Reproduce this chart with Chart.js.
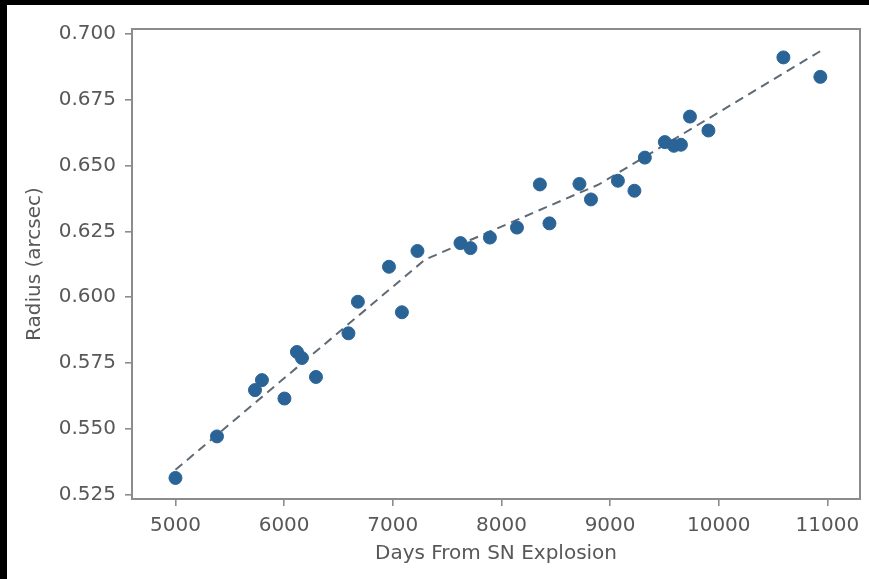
<!DOCTYPE html>
<html>
<head>
<meta charset="utf-8">
<script src="https://cdn.jsdelivr.net/npm/chart.js@4"></script>
<style>
  html, body { margin: 0; padding: 0; background: #000; }
  #wrap { position: absolute; left: 7px; top: 5px; width: 862px; height: 574px; background: #fff; }
  canvas { display: block; }
</style>
</head>
<body>
<div id="wrap"><canvas id="c" width="862" height="574"></canvas></div>
<script>
// Measured ring radius versus time since the explosion
const days = [5000, 5382, 5732, 5796, 6003, 6118, 6164, 6293, 6592, 6679,
              6965, 7084, 7227, 7623, 7715, 7894, 8143, 8354, 8442, 8718,
              8824, 9072, 9224, 9320, 9504, 9587, 9652, 9735, 9905, 10595, 10935];
const radius = [0.5313, 0.5471, 0.5647, 0.5685, 0.5615, 0.5792, 0.5769, 0.5697, 0.5863, 0.5983,
                0.6116, 0.5943, 0.6176, 0.6206, 0.6187, 0.6227, 0.6265, 0.6429, 0.6281, 0.6431,
                0.6372, 0.6443, 0.6405, 0.6531, 0.6590, 0.6576, 0.6580, 0.6687, 0.6634, 0.6912, 0.6838];

// Broken-line fit through the measurements (break points)
const fitDays = [5000, 7296, 8897, 10940];
const fitRadius = [0.5344, 0.6143, 0.6429, 0.6937];

// Axis ticks
const xTicks = [5000, 6000, 7000, 8000, 9000, 10000, 11000];
const yTicks = [0.525, 0.550, 0.575, 0.600, 0.625, 0.650, 0.675, 0.700];

const textColor = '#585858';
const frameColor = '#8c8c8c';
const font = { family: '"DejaVu Sans", sans-serif', size: 20 };

const frame = {
  id: 'frame',
  afterDraw(chart) {
    const { ctx, chartArea: a } = chart;
    ctx.save();
    ctx.strokeStyle = frameColor;
    ctx.lineWidth = 2;
    ctx.strokeRect(a.left, a.top, a.right - a.left, a.bottom - a.top);
    ctx.restore();
  }
};

new Chart(document.getElementById('c'), {
  type: 'scatter',
  data: {
    datasets: [
      {
        type: 'line',
        data: fitDays.map((d, i) => ({ x: d, y: fitRadius[i] })),
        borderColor: '#5f6a75',
        borderWidth: 2,
        borderDash: [9, 6],
        pointRadius: 0,
        fill: false,
        tension: 0,
        order: 2
      },
      {
        data: days.map((d, i) => ({ x: d, y: radius[i] })),
        backgroundColor: '#2a6496',
        borderColor: '#2a6496',
        pointRadius: 6.5,
        pointHoverRadius: 6.5,
        order: 1
      }
    ]
  },
  options: {
    responsive: false,
    animation: false,
    events: [],
    layout: { padding: { left: 0, top: 24, right: 9, bottom: 0 } },
    plugins: { legend: { display: false }, tooltip: { enabled: false } },
    scales: {
      x: {
        type: 'linear',
        min: 4600,
        max: 11300,
        afterBuildTicks: s => { s.ticks = xTicks.map(v => ({ value: v })); },
        afterFit: s => { s.height = 80; },
        border: { display: false },
        grid: { drawOnChartArea: false, drawTicks: true, tickLength: 7, color: frameColor, lineWidth: 1.6 },
        ticks: { color: textColor, font, padding: 8, maxRotation: 0, callback: v => String(v) },
        title: { display: true, text: 'Days From SN Explosion', color: textColor, font, padding: { top: 2, bottom: 13 } }
      },
      y: {
        type: 'linear',
        min: 0.5233,
        max: 0.7020,
        afterBuildTicks: s => { s.ticks = yTicks.map(v => ({ value: v })); },
        afterFit: s => { s.width = 125; },
        border: { display: false },
        grid: { drawOnChartArea: false, drawTicks: true, tickLength: 7, color: frameColor, lineWidth: 1.6 },
        ticks: { color: textColor, font, padding: 9, callback: v => v.toFixed(3) },
        title: { display: true, text: 'Radius (arcsec)', color: textColor, font, padding: { top: 16, bottom: 0 } }
      }
    }
  },
  plugins: [frame]
});
</script>
</body>
</html>
